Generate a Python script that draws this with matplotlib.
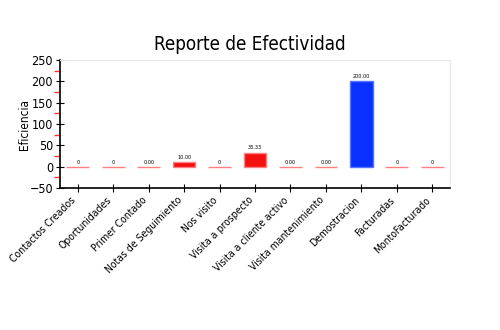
import matplotlib.pyplot as plt
import numpy as np
from matplotlib.ticker import MultipleLocator

plt.rcParams['font.family'] = ['DejaVu Sans']
plt.rcParams['font.stretch'] = 'condensed'

# datos del reporte
categorias = ['Contactos Creados', 'Oportunidades', 'Primer Contado', 'Notas de Seguimiento',
              'Nos visito', 'Visita a prospecto', 'Visita a cliente activo',
              'Visita mantenimiento', 'Demostracion', 'Facturadas', 'MontoFacturado']
eficiencia = [0, 0, 0.00, 10.00, 0, 33.33, 0.00, 0.00, 200.00, 0, 0]
etiquetas = ['0', '0', '0.00', '10.00', '0', '33.33', '0.00', '0.00', '200.00', '0', '0']

fig = plt.figure(figsize=(5, 3.3), dpi=100)
ax = fig.add_axes([0.12, 0.43, 0.78, 0.388])

x = np.arange(len(categorias))
colores = []
bordes = []
for v in eficiencia:
    if v >= 100:
        colores.append('#0a30ff')
        bordes.append('#5575ff')
    else:
        colores.append('#f51010')
        bordes.append('#ff8080')

ax.bar(x, eficiencia, width=0.64, color=colores, edgecolor=bordes, linewidth=1.0)

for xi, v, t in zip(x, eficiencia, etiquetas):
    ax.text(xi, v + 5, t, ha='center', va='bottom', fontsize=4)

ax.set_xlim(-0.5, len(categorias) - 0.5)
ax.set_ylim(-50, 250)
ax.yaxis.set_major_locator(MultipleLocator(50))
ax.yaxis.set_minor_locator(MultipleLocator(25))
ax.set_xticks(x)
ax.set_xticklabels(categorias, rotation=45, ha='right', fontsize=7.5)
ax.tick_params(axis='y', which='major', direction='inout', length=6, labelsize=9, pad=2)
ax.tick_params(axis='y', which='minor', direction='out', length=4, width=1.0, color='#ff3333')
ax.tick_params(axis='x', direction='inout', length=6, pad=2)
ax.set_ylabel('Eficiencia', fontsize=8.5)
ax.yaxis.set_label_coords(-0.075, 0.5)

ax.spines['top'].set_color('#e6e6e6')
ax.spines['right'].set_color('#e6e6e6')
ax.spines['left'].set_linewidth(1.2)
ax.spines['bottom'].set_linewidth(1.2)

fig.suptitle('Reporte de Efectividad', fontsize=13.5, y=0.895)

fig.savefig('out.png', dpi=100)
